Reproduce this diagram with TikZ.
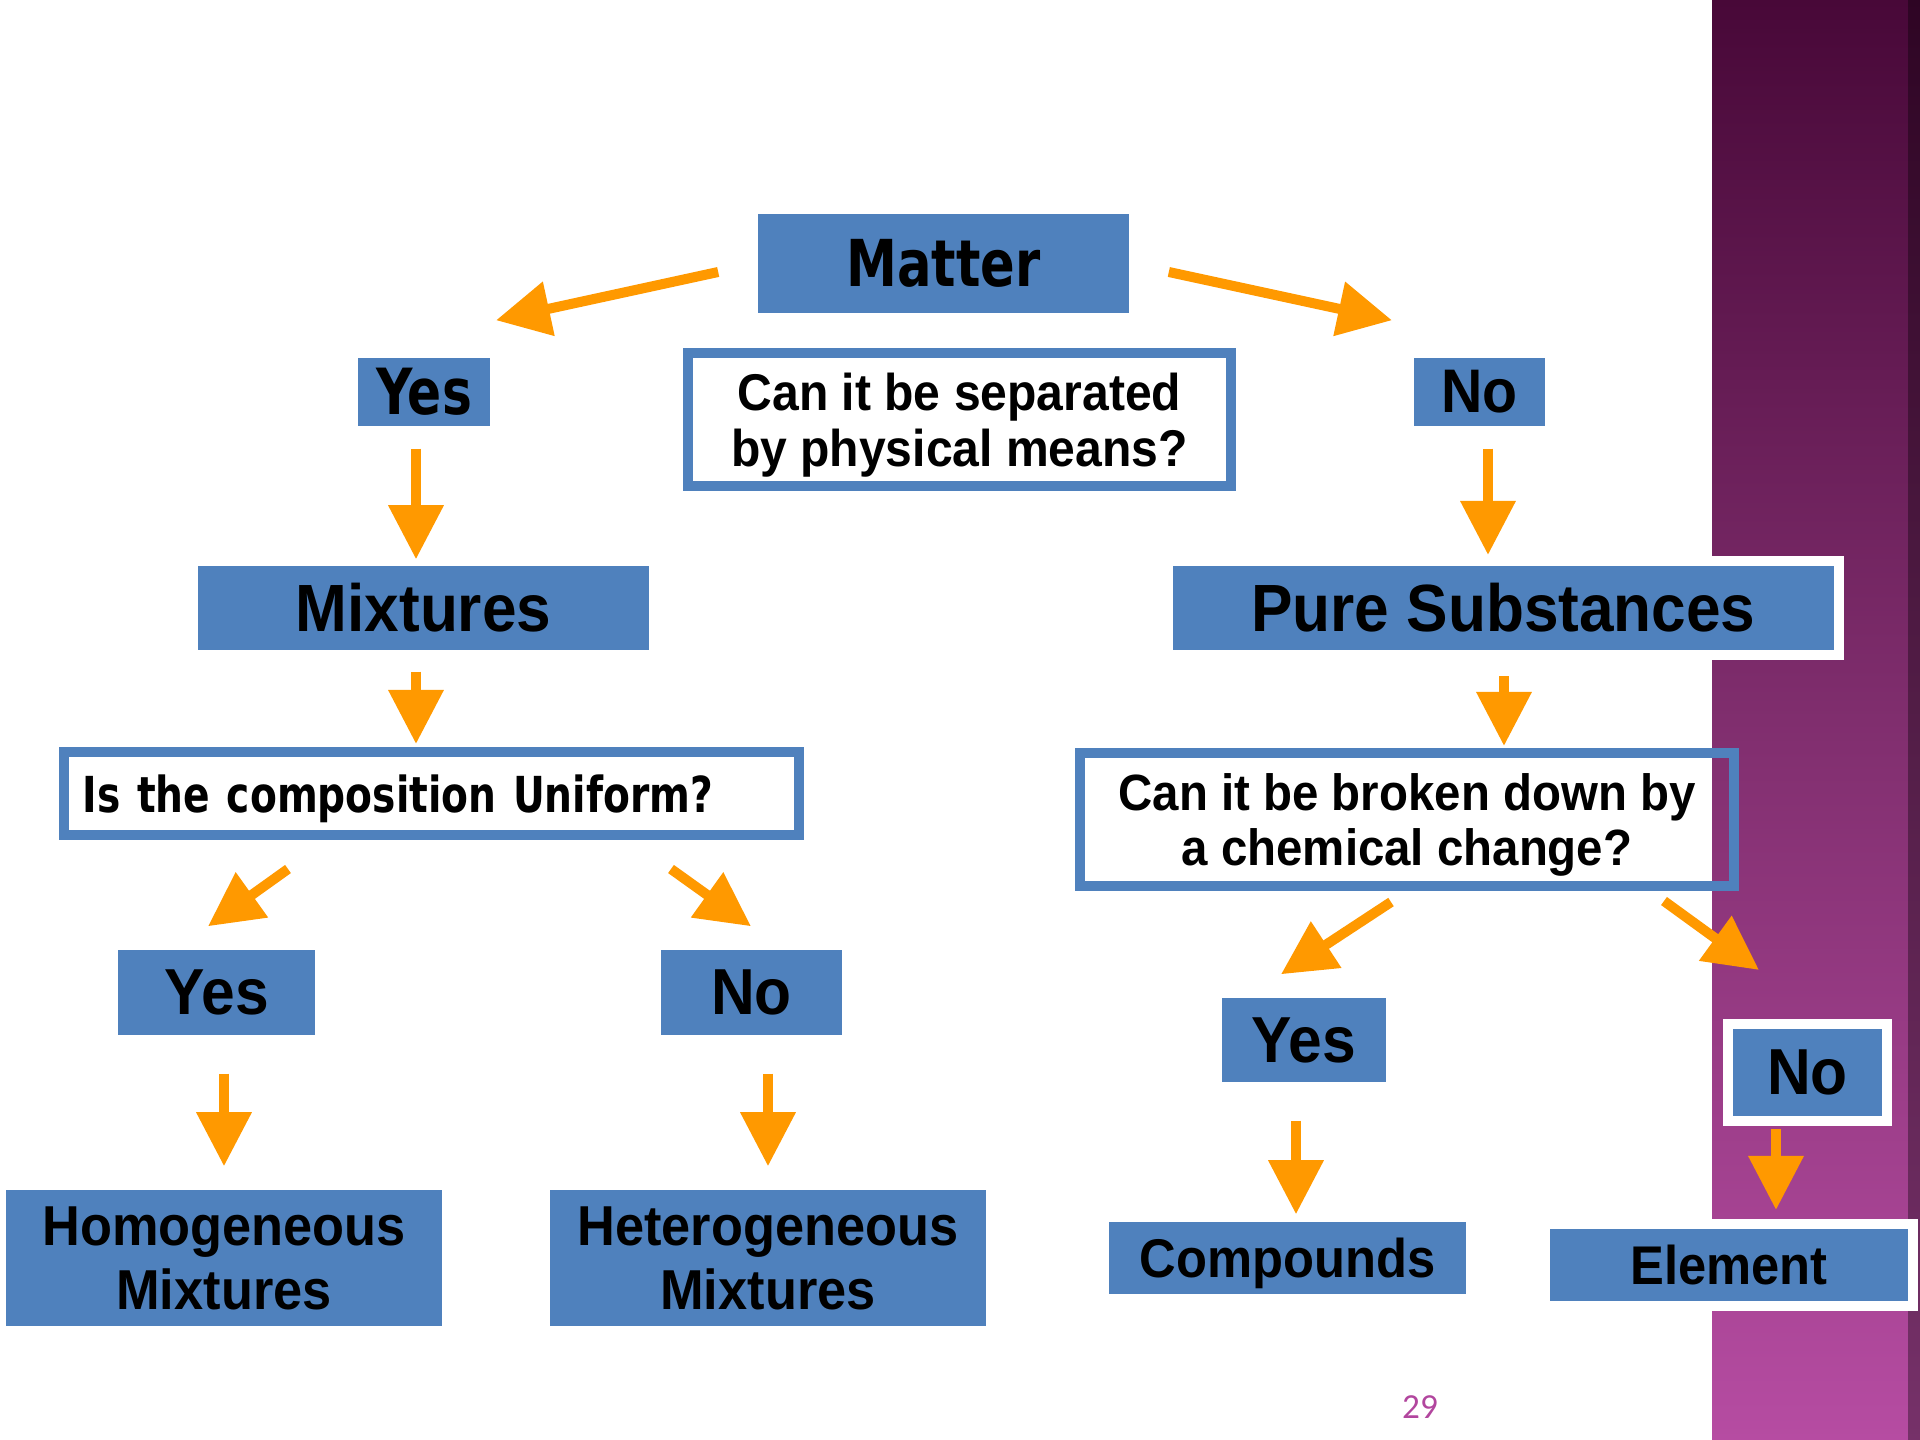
\documentclass[tikz,border=0pt]{standalone}
\usepackage{fontspec}
\setmainfont[FakeStretch=0.93]{Liberation Sans}
\newfontfamily\tahfont[FakeStretch=0.79]{DejaVu Sans}
\newfontfamily\numfont{Carlito}
\usetikzlibrary{arrows.meta,calc}
\definecolor{boxblue}{RGB}{79,129,189}
\definecolor{arrorange}{RGB}{255,153,0}
\definecolor{bandtop}{RGB}{72,8,56}
\definecolor{bandmid}{RGB}{128,46,110}
\definecolor{bandbot}{RGB}{182,76,162}
\definecolor{pagenum}{RGB}{178,70,158}

\begin{document}
\begin{tikzpicture}[x=0.01cm, y=-0.01cm,
  box/.style={rectangle, fill=boxblue, inner sep=0pt, align=center},
  ringbox/.style={box, draw=white, line width=0.1cm},
  question/.style={rectangle, draw=boxblue, line width=0.1cm, inner sep=0pt, align=center, text depth=0pt},
  flow/.style={draw=arrorange, line width=0.1cm, -{Triangle[width=0.53cm,length=0.54cm]}}]

\useasboundingbox (0,0) rectangle (1920,1440);
\fill[white] (0,0) rectangle (1920,1440);
\shade[top color=bandtop, bottom color=bandbot, middle color=bandmid] (1712,0) rectangle (1920,1440);
\fill[black, opacity=0.35] (1908,0) rectangle (1920,1440);

\node[box, minimum width=3.71cm, minimum height=0.99cm,
  font=\tahfont\bfseries\fontsize{18.4}{22}\selectfont] (matter) at (943.5,263.5) {Matter};
\node[question, minimum width=5.43cm, minimum height=1.33cm,
  font=\bfseries\fontsize{14.7}{15.9}\selectfont] (sep) at (959.5,419.5) {Can it be separated\\by physical means?};

\node[box, minimum width=1.32cm, minimum height=0.68cm,
  font=\tahfont\bfseries\fontsize{18.1}{22}\selectfont] (yesA) at (424,392) {Yes};
\node[box, minimum width=1.31cm, minimum height=0.68cm,
  font=\bfseries\fontsize{17.5}{21}\selectfont] (noA) at (1479.5,392) {No};

\node[box, minimum width=4.51cm, minimum height=0.84cm,
  font=\bfseries\fontsize{19}{23}\selectfont] (mix) at (423.5,608) {Mixtures};
\node[ringbox, minimum width=6.71cm, minimum height=0.94cm,
  font=\bfseries\fontsize{19}{23}\selectfont] (pure) at (1503.5,608) {Pure Substances};

\node[question, text width=6.97cm, inner xsep=0.19cm, minimum height=0.83cm, align=left,
  font=\tahfont\bfseries\fontsize{14.1}{17}\selectfont] (unif) at (431.5,793.5) {Is the composition Uniform?};
\node[question, minimum width=6.54cm, minimum height=1.33cm,
  font=\bfseries\fontsize{14.5}{15.9}\selectfont] (brk) at (1407,819.5) {Can it be broken down by\\a chemical change?};

\node[box, minimum width=1.97cm, minimum height=0.85cm,
  font=\bfseries\fontsize{18.5}{22}\selectfont] (yesB) at (216.5,992.5) {Yes};
\node[box, minimum width=1.81cm, minimum height=0.85cm,
  font=\bfseries\fontsize{18.5}{22}\selectfont] (noB) at (751.5,992.5) {No};
\node[box, minimum width=1.64cm, minimum height=0.84cm,
  font=\bfseries\fontsize{18.5}{22}\selectfont] (yesC) at (1304,1040) {Yes};
\node[ringbox, minimum width=1.59cm, minimum height=0.97cm,
  font=\bfseries\fontsize{18.5}{22}\selectfont] (noC) at (1807.5,1072.5) {No};

\node[box, minimum width=4.36cm, minimum height=1.36cm,
  font=\bfseries\fontsize{16}{18.2}\selectfont] (homo) at (224,1258) {Homogeneous\\Mixtures};
\node[box, minimum width=4.36cm, minimum height=1.36cm,
  font=\bfseries\fontsize{16}{18.2}\selectfont] (hetero) at (768,1258) {Heterogeneous\\Mixtures};
\node[box, minimum width=3.57cm, minimum height=0.72cm, text depth=0pt,
  font=\bfseries\fontsize{15.5}{18}\selectfont] (comp) at (1287.5,1258) {Compounds};
\node[ringbox, minimum width=3.68cm, minimum height=0.82cm,
  font=\bfseries\fontsize{15.5}{18}\selectfont] (elem) at (1729,1265) {Element};

\node[text=pagenum, font=\numfont\fontsize{10}{12}\selectfont] (page) at (1420,1407) {29};

\draw[flow] ($(matter.west)+(-39,8.5)$) -- ($(yesA.north)+(72,-37)$);
\draw[flow] ($(matter.east)+(39,8.5)$) -- ($(noA.north)+(-87.5,-37)$);
\draw[flow] ($(yesA.south)+(-8,22)$) -- ($(mix.north)+(-7.5,-6)$);
\draw[flow] ($(noA.south)+(8.5,22)$) -- ($(pure.north)+(-15.5,-1)$);
\draw[flow] ($(mix.south)+(-7.5,21)$) -- ($(unif.north)+(-15.5,-3)$);
\draw[flow] ($(pure.south)+(0.5,16)$) -- ($(brk.north)+(97,-2)$);
\draw[flow] ($(unif.south)+(-143.5,29)$) -- ($(yesB.north)+(-8.5,-23)$);
\draw[flow] ($(unif.south)+(239.5,29)$) -- ($(noB.north)+(-0.5,-23)$);
\draw[flow] ($(yesB.south)+(7.5,38)$) -- ($(homo.north)+(0,-23)$);
\draw[flow] ($(noB.south)+(16.5,38)$) -- ($(hetero.north)+(0,-23)$);
\draw[flow] ($(brk.south)+(-16,11)$) -- ($(yesC.north)+(-23,-23)$);
\draw[flow] ($(brk.south)+(257,10)$) -- ($(noC.north)+(-48.5,-49)$);
\draw[flow] ($(yesC.south)+(-8,38)$) -- ($(comp.north)+(8.5,-7)$);
\draw[flow] ($(noC.south)+(-31.5,3)$) -- ($(elem.north)+(47,-9)$);

\end{tikzpicture}
\end{document}
